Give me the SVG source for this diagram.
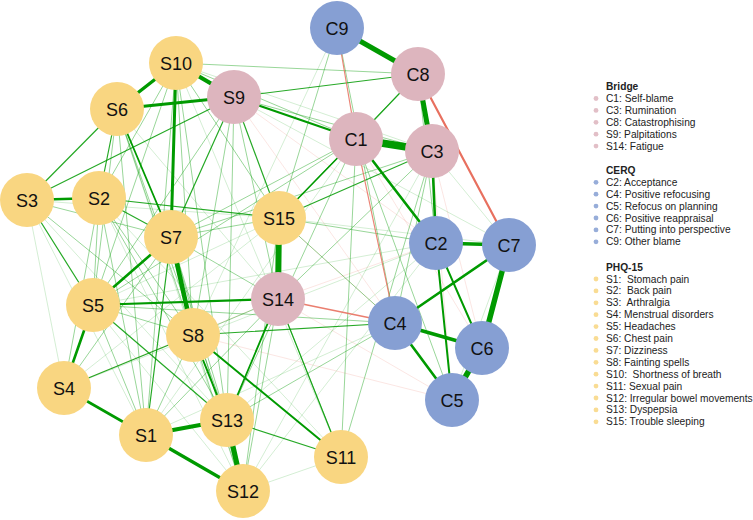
<svg xmlns="http://www.w3.org/2000/svg" width="753" height="520" viewBox="0 0 753 520">
<style>
.p{stroke:#009a00;fill:none;stroke-linecap:round}
.n{stroke:#e8705f;fill:none;stroke-linecap:round}
.w{stroke-width:0.8;stroke-opacity:0.22}
.m{stroke-width:0.9;stroke-opacity:0.45}
.s{stroke-width:1.2;stroke-opacity:0.85}
.ys{fill:#f9d681}
.pk{fill:#ddb5be}
.bl{fill:#869fd3}
.nd text{font-family:"Liberation Sans",Arial,sans-serif;font-size:18px;fill:#111;text-anchor:middle}
.lg{font-family:"Liberation Sans",Arial,sans-serif;font-size:10.2px;fill:#222}
.lh{font-weight:bold}
.dots{opacity:0.85}
</style>
<rect width="753" height="520" fill="#fff"/>
<g id="edges">
<line class="p w" x1="27" y1="200" x2="64" y2="388"/>
<line class="p w" x1="27" y1="200" x2="146" y2="435"/>
<line class="p w" x1="64" y1="388" x2="243" y2="491"/>
<line class="p w" x1="243" y1="491" x2="341" y2="457"/>
<line class="p w" x1="99" y1="198" x2="243" y2="491"/>
<line class="p w" x1="117" y1="109" x2="243" y2="491"/>
<line class="p w" x1="27" y1="200" x2="227" y2="420"/>
<line class="p w" x1="93" y1="305" x2="243" y2="491"/>
<line class="p w" x1="176" y1="63" x2="341" y2="457"/>
<line class="p w" x1="99" y1="198" x2="341" y2="457"/>
<line class="p w" x1="117" y1="109" x2="278" y2="299"/>
<line class="p w" x1="27" y1="200" x2="279" y2="218"/>
<line class="p w" x1="93" y1="305" x2="279" y2="218"/>
<line class="p w" x1="64" y1="388" x2="279" y2="218"/>
<line class="p w" x1="146" y1="435" x2="356" y2="139"/>
<line class="p w" x1="243" y1="491" x2="432" y2="151"/>
<line class="p w" x1="227" y1="420" x2="436" y2="243"/>
<line class="p w" x1="64" y1="388" x2="436" y2="243"/>
<line class="p w" x1="176" y1="63" x2="432" y2="151"/>
<line class="p w" x1="234" y1="97" x2="509" y2="245"/>
<line class="p w" x1="279" y1="218" x2="509" y2="245"/>
<line class="p w" x1="337" y1="28" x2="193" y2="335"/>
<line class="p w" x1="146" y1="435" x2="395" y2="323"/>
<line class="p w" x1="93" y1="305" x2="436" y2="243"/>
<line class="p w" x1="243" y1="491" x2="436" y2="243"/>
<line class="p w" x1="432" y1="151" x2="509" y2="245"/>
<line class="p w" x1="509" y1="245" x2="452" y2="400"/>
<line class="n w" x1="234" y1="97" x2="395" y2="323"/>
<line class="n w" x1="234" y1="97" x2="436" y2="243"/>
<line class="n w" x1="64" y1="388" x2="278" y2="299"/>
<line class="n w" x1="193" y1="335" x2="452" y2="400"/>
<line class="n w" x1="278" y1="299" x2="452" y2="400"/>
<line class="n w" x1="432" y1="151" x2="482" y2="348"/>
<line class="n w" x1="432" y1="151" x2="452" y2="400"/>
<line class="n w" x1="278" y1="299" x2="436" y2="243"/>
<line class="n w" x1="356" y1="139" x2="482" y2="348"/>
<line class="n w" x1="279" y1="218" x2="395" y2="323"/>
<line class="p m" x1="27" y1="200" x2="171" y2="237"/>
<line class="p m" x1="99" y1="198" x2="93" y2="305"/>
<line class="p m" x1="99" y1="198" x2="64" y2="388"/>
<line class="p m" x1="99" y1="198" x2="146" y2="435"/>
<line class="p m" x1="99" y1="198" x2="193" y2="335"/>
<line class="p m" x1="99" y1="198" x2="227" y2="420"/>
<line class="p m" x1="117" y1="109" x2="93" y2="305"/>
<line class="p m" x1="117" y1="109" x2="146" y2="435"/>
<line class="p m" x1="117" y1="109" x2="193" y2="335"/>
<line class="p m" x1="117" y1="109" x2="227" y2="420"/>
<line class="p m" x1="176" y1="63" x2="99" y2="198"/>
<line class="p m" x1="176" y1="63" x2="93" y2="305"/>
<line class="p m" x1="176" y1="63" x2="193" y2="335"/>
<line class="p m" x1="176" y1="63" x2="279" y2="218"/>
<line class="p m" x1="176" y1="63" x2="146" y2="435"/>
<line class="p m" x1="176" y1="63" x2="227" y2="420"/>
<line class="p m" x1="234" y1="97" x2="93" y2="305"/>
<line class="p m" x1="234" y1="97" x2="193" y2="335"/>
<line class="p m" x1="234" y1="97" x2="227" y2="420"/>
<line class="p m" x1="234" y1="97" x2="278" y2="299"/>
<line class="p m" x1="171" y1="237" x2="278" y2="299"/>
<line class="p m" x1="171" y1="237" x2="279" y2="218"/>
<line class="p m" x1="171" y1="237" x2="227" y2="420"/>
<line class="p m" x1="171" y1="237" x2="243" y2="491"/>
<line class="p m" x1="193" y1="335" x2="278" y2="299"/>
<line class="p m" x1="193" y1="335" x2="243" y2="491"/>
<line class="p m" x1="93" y1="305" x2="146" y2="435"/>
<line class="p m" x1="93" y1="305" x2="193" y2="335"/>
<line class="p m" x1="146" y1="435" x2="193" y2="335"/>
<line class="p m" x1="146" y1="435" x2="278" y2="299"/>
<line class="p m" x1="227" y1="420" x2="356" y2="139"/>
<line class="p m" x1="341" y1="457" x2="356" y2="139"/>
<line class="p m" x1="341" y1="457" x2="278" y2="299"/>
<line class="p m" x1="278" y1="299" x2="243" y2="491"/>
<line class="p m" x1="279" y1="218" x2="243" y2="491"/>
<line class="p m" x1="279" y1="218" x2="436" y2="243"/>
<line class="p m" x1="171" y1="237" x2="356" y2="139"/>
<line class="p m" x1="171" y1="237" x2="432" y2="151"/>
<line class="p m" x1="93" y1="305" x2="356" y2="139"/>
<line class="p m" x1="176" y1="63" x2="356" y2="139"/>
<line class="p m" x1="176" y1="63" x2="418" y2="74"/>
<line class="p m" x1="234" y1="97" x2="432" y2="151"/>
<line class="p m" x1="279" y1="218" x2="395" y2="323"/>
<line class="p m" x1="278" y1="299" x2="432" y2="151"/>
<line class="p m" x1="227" y1="420" x2="395" y2="323"/>
<line class="p m" x1="337" y1="28" x2="279" y2="218"/>
<line class="p m" x1="337" y1="28" x2="395" y2="323"/>
<line class="p m" x1="418" y1="74" x2="436" y2="243"/>
<line class="p m" x1="432" y1="151" x2="395" y2="323"/>
<line class="p m" x1="356" y1="139" x2="452" y2="400"/>
<line class="p m" x1="93" y1="305" x2="395" y2="323"/>
<line class="p m" x1="27" y1="200" x2="193" y2="335"/>
<line class="p m" x1="64" y1="388" x2="171" y2="237"/>
<line class="p m" x1="341" y1="457" x2="432" y2="151"/>
<line class="p m" x1="418" y1="74" x2="279" y2="218"/>
<line class="p s" x1="27" y1="200" x2="93" y2="305"/>
<line class="p s" x1="27" y1="200" x2="117" y2="109"/>
<line class="p s" x1="27" y1="200" x2="234" y2="97"/>
<line class="p s" x1="117" y1="109" x2="99" y2="198"/>
<line class="p s" x1="99" y1="198" x2="171" y2="237"/>
<line class="p s" x1="99" y1="198" x2="279" y2="218"/>
<line class="p s" x1="64" y1="388" x2="193" y2="335"/>
<line class="p s" x1="146" y1="435" x2="171" y2="237"/>
<line class="p s" x1="93" y1="305" x2="227" y2="420"/>
<line class="p s" x1="227" y1="420" x2="341" y2="457"/>
<line class="p s" x1="278" y1="299" x2="341" y2="457"/>
<line class="p s" x1="193" y1="335" x2="395" y2="323"/>
<line class="p s" x1="234" y1="97" x2="279" y2="218"/>
<line class="p s" x1="234" y1="97" x2="171" y2="237"/>
<line class="p s" x1="234" y1="97" x2="418" y2="74"/>
<line class="p s" x1="279" y1="218" x2="432" y2="151"/>
<line class="p s" x1="418" y1="74" x2="356" y2="139"/>
<line class="n s" x1="337" y1="28" x2="356" y2="139"/>
<line class="n s" x1="356" y1="139" x2="395" y2="323"/>
<line class="n" x1="278" y1="299" x2="395" y2="323" stroke-width="1.6" stroke-opacity="0.9"/>
<line class="p" x1="117" y1="109" x2="171" y2="237" stroke-width="1.8"/>
<line class="p" x1="227" y1="420" x2="278" y2="299" stroke-width="1.8"/>
<line class="p" x1="356" y1="139" x2="279" y2="218" stroke-width="1.6"/>
<line class="p" x1="193" y1="335" x2="341" y2="457" stroke-width="2"/>
<line class="p" x1="193" y1="335" x2="227" y2="420" stroke-width="2"/>
<line class="p" x1="234" y1="97" x2="356" y2="139" stroke-width="2"/>
<line class="p" x1="93" y1="305" x2="278" y2="299" stroke-width="2.2"/>
<line class="p" x1="436" y1="243" x2="452" y2="400" stroke-width="2"/>
<line class="p" x1="436" y1="243" x2="482" y2="348" stroke-width="2"/>
<line class="n" x1="418" y1="74" x2="509" y2="245" stroke-width="2.2"/>
<line class="p" x1="27" y1="200" x2="99" y2="198" stroke-width="2.6"/>
<line class="p" x1="93" y1="305" x2="171" y2="237" stroke-width="2.6"/>
<line class="p" x1="93" y1="305" x2="64" y2="388" stroke-width="2.6"/>
<line class="p" x1="64" y1="388" x2="146" y2="435" stroke-width="2.6"/>
<line class="p" x1="356" y1="139" x2="436" y2="243" stroke-width="2.6"/>
<line class="p" x1="432" y1="151" x2="436" y2="243" stroke-width="2.6"/>
<line class="p" x1="395" y1="323" x2="509" y2="245" stroke-width="2.6"/>
<line class="p" x1="395" y1="323" x2="452" y2="400" stroke-width="2.6"/>
<line class="p" x1="117" y1="109" x2="234" y2="97" stroke-width="2.8"/>
<line class="p" x1="176" y1="63" x2="171" y2="237" stroke-width="3"/>
<line class="p" x1="146" y1="435" x2="243" y2="491" stroke-width="3.2"/>
<line class="p" x1="436" y1="243" x2="509" y2="245" stroke-width="3.4"/>
<line class="p" x1="395" y1="323" x2="482" y2="348" stroke-width="3.4"/>
<line class="p" x1="176" y1="63" x2="117" y2="109" stroke-width="3.4"/>
<line class="p" x1="176" y1="63" x2="234" y2="97" stroke-width="4.2"/>
<line class="p" x1="146" y1="435" x2="227" y2="420" stroke-width="4.2"/>
<line class="p" x1="171" y1="237" x2="193" y2="335" stroke-width="4.6"/>
<line class="p" x1="337" y1="28" x2="418" y2="74" stroke-width="5"/>
<line class="p" x1="418" y1="74" x2="432" y2="151" stroke-width="5"/>
<line class="p" x1="227" y1="420" x2="243" y2="491" stroke-width="5.2"/>
<line class="p" x1="509" y1="245" x2="482" y2="348" stroke-width="5.4"/>
<line class="p" x1="482" y1="348" x2="452" y2="400" stroke-width="5.6"/>
<line class="p" x1="279" y1="218" x2="278" y2="299" stroke-width="6"/>
<line class="p" x1="356" y1="139" x2="432" y2="151" stroke-width="7.5"/>
</g>
<g id="node-S10" class="nd"><circle class="ys" cx="176" cy="63" r="27"/><text x="176" y="69.5">S10</text></g>
<g id="node-S9" class="nd"><circle class="pk" cx="234" cy="97" r="27"/><text x="234" y="103.5">S9</text></g>
<g id="node-S6" class="nd"><circle class="ys" cx="117" cy="109" r="27"/><text x="117" y="115.5">S6</text></g>
<g id="node-S3" class="nd"><circle class="ys" cx="27" cy="200" r="27"/><text x="27" y="206.5">S3</text></g>
<g id="node-S2" class="nd"><circle class="ys" cx="99" cy="198" r="27"/><text x="99" y="204.5">S2</text></g>
<g id="node-S7" class="nd"><circle class="ys" cx="171" cy="237" r="27"/><text x="171" y="243.5">S7</text></g>
<g id="node-S15" class="nd"><circle class="ys" cx="279" cy="218" r="27"/><text x="279" y="224.5">S15</text></g>
<g id="node-S5" class="nd"><circle class="ys" cx="93" cy="305" r="27"/><text x="93" y="311.5">S5</text></g>
<g id="node-S8" class="nd"><circle class="ys" cx="193" cy="335" r="27"/><text x="193" y="341.5">S8</text></g>
<g id="node-S14" class="nd"><circle class="pk" cx="278" cy="299" r="27"/><text x="278" y="305.5">S14</text></g>
<g id="node-S4" class="nd"><circle class="ys" cx="64" cy="388" r="27"/><text x="64" y="394.5">S4</text></g>
<g id="node-S1" class="nd"><circle class="ys" cx="146" cy="435" r="27"/><text x="146" y="441.5">S1</text></g>
<g id="node-S13" class="nd"><circle class="ys" cx="227" cy="420" r="27"/><text x="227" y="426.5">S13</text></g>
<g id="node-S12" class="nd"><circle class="ys" cx="243" cy="491" r="27"/><text x="243" y="497.5">S12</text></g>
<g id="node-S11" class="nd"><circle class="ys" cx="341" cy="457" r="27"/><text x="341" y="463.5">S11</text></g>
<g id="node-C9" class="nd"><circle class="bl" cx="337" cy="28" r="27"/><text x="337" y="34.5">C9</text></g>
<g id="node-C8" class="nd"><circle class="pk" cx="418" cy="74" r="27"/><text x="418" y="80.5">C8</text></g>
<g id="node-C1" class="nd"><circle class="pk" cx="356" cy="139" r="27"/><text x="356" y="145.5">C1</text></g>
<g id="node-C3" class="nd"><circle class="pk" cx="432" cy="151" r="27"/><text x="432" y="157.5">C3</text></g>
<g id="node-C2" class="nd"><circle class="bl" cx="436" cy="243" r="27"/><text x="436" y="249.5">C2</text></g>
<g id="node-C7" class="nd"><circle class="bl" cx="509" cy="245" r="27"/><text x="509" y="251.5">C7</text></g>
<g id="node-C4" class="nd"><circle class="bl" cx="395" cy="323" r="27"/><text x="395" y="329.5">C4</text></g>
<g id="node-C6" class="nd"><circle class="bl" cx="482" cy="348" r="27"/><text x="482" y="354.5">C6</text></g>
<g id="node-C5" class="nd"><circle class="bl" cx="452" cy="400" r="27"/><text x="452" y="406.5">C5</text></g>
<g id="legend" class="lg">
<text class="lg lh" x="606" y="90">Bridge</text>
<g class="pk dots"><circle cx="596" cy="98.5" r="2.4"/><circle cx="596" cy="110.4" r="2.4"/><circle cx="596" cy="122.3" r="2.4"/><circle cx="596" cy="134.2" r="2.4"/><circle cx="596" cy="146.1" r="2.4"/></g>
<text class="lg" x="606" y="102">C1: Self-blame</text>
<text class="lg" x="606" y="113.9">C3: Rumination</text>
<text class="lg" x="606" y="125.8">C8: Catastrophising</text>
<text class="lg" x="606" y="137.7">S9: Palpitations</text>
<text class="lg" x="606" y="149.6">S14: Fatigue</text>
<text class="lg lh" x="606" y="174">CERQ</text>
<g class="bl dots"><circle cx="596" cy="182.3" r="2.4"/><circle cx="596" cy="194.2" r="2.4"/><circle cx="596" cy="206.1" r="2.4"/><circle cx="596" cy="218" r="2.4"/><circle cx="596" cy="229.9" r="2.4"/><circle cx="596" cy="241.8" r="2.4"/></g>
<text class="lg" x="606" y="185.8">C2: Acceptance</text>
<text class="lg" x="606" y="197.7">C4: Positive refocusing</text>
<text class="lg" x="606" y="209.6">C5: Refocus on planning</text>
<text class="lg" x="606" y="221.5">C6: Positive reappraisal</text>
<text class="lg" x="606" y="233.4">C7: Putting into perspective</text>
<text class="lg" x="606" y="245.3">C9: Other blame</text>
<text class="lg lh" x="606" y="271">PHQ-15</text>
<g class="ys dots"><circle cx="596" cy="279" r="2.4"/><circle cx="596" cy="290.9" r="2.4"/><circle cx="596" cy="302.8" r="2.4"/><circle cx="596" cy="314.7" r="2.4"/><circle cx="596" cy="326.6" r="2.4"/><circle cx="596" cy="338.5" r="2.4"/><circle cx="596" cy="350.4" r="2.4"/><circle cx="596" cy="362.3" r="2.4"/><circle cx="596" cy="374.2" r="2.4"/><circle cx="596" cy="386.1" r="2.4"/><circle cx="596" cy="398" r="2.4"/><circle cx="596" cy="409.9" r="2.4"/><circle cx="596" cy="421.8" r="2.4"/></g>
<text class="lg" x="606" y="282.5" xml:space="preserve">S1:  Stomach pain</text>
<text class="lg" x="606" y="294.4" xml:space="preserve">S2:  Back pain</text>
<text class="lg" x="606" y="306.3" xml:space="preserve">S3:  Arthralgia</text>
<text class="lg" x="606" y="318.2">S4: Menstrual disorders</text>
<text class="lg" x="606" y="330.1">S5: Headaches</text>
<text class="lg" x="606" y="342">S6: Chest pain</text>
<text class="lg" x="606" y="353.9">S7: Dizziness</text>
<text class="lg" x="606" y="365.8">S8: Fainting spells</text>
<text class="lg" x="606" y="377.7" xml:space="preserve">S10:  Shortness of breath</text>
<text class="lg" x="606" y="389.6">S11: Sexual pain</text>
<text class="lg" x="606" y="401.5">S12: Irregular bowel movements</text>
<text class="lg" x="606" y="413.4">S13: Dyspepsia</text>
<text class="lg" x="606" y="425.3">S15: Trouble sleeping</text>
</g>
</svg>
